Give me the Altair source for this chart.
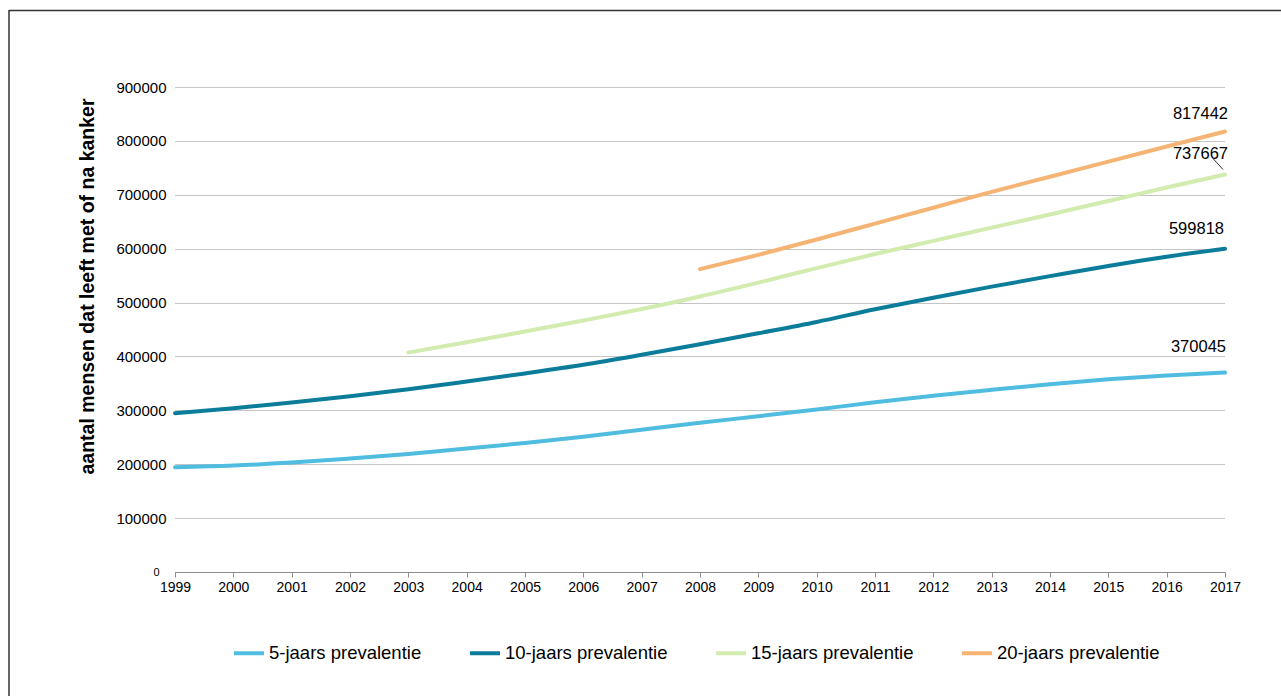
import altair as alt
import pandas as pd

# Prevalentie van kanker in Nederland, 1999-2017
years = list(range(1999, 2018))

prev5 = [194500, 197500, 203000, 210500, 219000, 229000, 239500, 251000, 264000,
         277000, 289000, 301500, 315000, 327000, 338000, 348500, 357500, 364500, 370045]
prev10 = [294700, 304000, 314500, 326000, 339000, 353500, 368500, 384500, 403000,
          422500, 443000, 464000, 487500, 509000, 529500, 549000, 568000, 585000, 599818]
years15 = list(range(2003, 2018))
prev15 = [407300, 426500, 446300, 466700, 488000, 511300, 537000, 564000, 590000,
          614500, 639000, 663500, 688500, 713500, 737667]
years20 = list(range(2008, 2018))
prev20 = [562000, 588500, 617000, 646500, 676000, 705500, 733500, 761500, 789500, 817442]

series = ["5-jaars prevalentie", "10-jaars prevalentie",
          "15-jaars prevalentie", "20-jaars prevalentie"]
colors = ["#50bde0", "#0b7d9b", "#d2ebaf", "#f5b473"]
y_ticks = list(range(0, 900001, 100000))

FONT = "Liberation Sans"

rows = []
for name, xs, vs in [(series[0], years, prev5), (series[1], years, prev10),
                     (series[2], years15, prev15), (series[3], years20, prev20)]:
    for x, v in zip(xs, vs):
        rows.append({"jaar": x, "aantal": v, "reeks": name})
df = pd.DataFrame(rows)

lines = alt.Chart(df).mark_line(strokeWidth=4, interpolate="monotone", strokeCap="round").encode(
    x=alt.X("jaar:Q",
            scale=alt.Scale(domain=[1999, 2017], nice=False, zero=False),
            axis=alt.Axis(values=years, format="d", title=None, grid=False,
                          domainColor="#8c8c8c", tickColor="#8c8c8c", tickSize=5,
                          labelFontSize=14, labelPadding=3, labelColor="black",
                          labelFont=FONT, labelFlush=False, labelOverlap=False)),
    y=alt.Y("aantal:Q",
            scale=alt.Scale(domain=[0, 900000], nice=False),
            axis=alt.Axis(values=y_ticks, format="d",
                          title="aantal mensen dat leeft met of na kanker",
                          domain=False, ticks=False,
                          labelPadding={"condition": {"test": "datum.value === 0", "value": 16}, "value": 9},
                          labelFontSize={"condition": {"test": "datum.value === 0", "value": 11}, "value": 15},
                          labelColor="black", labelFont=FONT,
                          grid=True, gridDash=[1, 1], gridColor="#8a8a8a", gridWidth=1,
                          titleFont=FONT, titleFontSize=19.5, titleFontWeight="bold",
                          titleColor="black", titleX=-78, titleY=199)),
    color=alt.Color("reeks:N",
                    scale=alt.Scale(domain=series, range=colors),
                    legend=alt.Legend(title=None, orient="none", legendX=57, legendY=549,
                                      direction="horizontal", columns=4,
                                      symbolType="stroke", symbolSize=900,
                                      symbolStrokeWidth=4, labelFontSize=18.5,
                                      labelFont=FONT, labelColor="black",
                                      labelLimit=400,
                                      labelOffset=3, columnPadding=40)),
)


def end_label(value, dx, dy):
    return alt.Chart().mark_text(
        text=str(value), align="right", baseline="alphabetic",
        dx=dx, dy=dy, font=FONT, fontSize=16.5, color="black"
    ).encode(x=alt.datum(2017), y=alt.datum(value))


labels = [
    end_label(prev20[-1], 3, -12),
    end_label(prev15[-1], 3, -15),
    end_label(prev10[-1], -1, -15),
    end_label(prev5[-1], 1, -21),
]

# short leader from the 15-jaars label to its end point
leader = alt.Chart().mark_rule(
    color="#333333", strokeWidth=1,
    xOffset=-2, yOffset=-5, x2Offset=-12, y2Offset=-16
).encode(x=alt.datum(2017), y=alt.datum(prev15[-1]),
         x2=alt.datum(2017), y2=alt.datum(prev15[-1]))

# outer frame of the figure
frame_left = alt.Chart().mark_rule(color="#333333", strokeWidth=1.5).encode(
    x=alt.value(-166), y=alt.value(-77), y2=alt.value(620))
frame_top = alt.Chart().mark_rule(color="#333333", strokeWidth=1.5).encode(
    x=alt.value(-166), x2=alt.value(1120), y=alt.value(-76.5))

chart = alt.layer(frame_left, frame_top, lines, leader, *labels).properties(
    width=1050, height=485,
    autosize=alt.AutoSizeParams(type="none"),
    padding={"left": 175, "top": 87, "right": 56, "bottom": 124},
    background="white",
).configure_view(stroke=None)

chart.save("out.html", embed_options={"renderer": "svg", "actions": False})
